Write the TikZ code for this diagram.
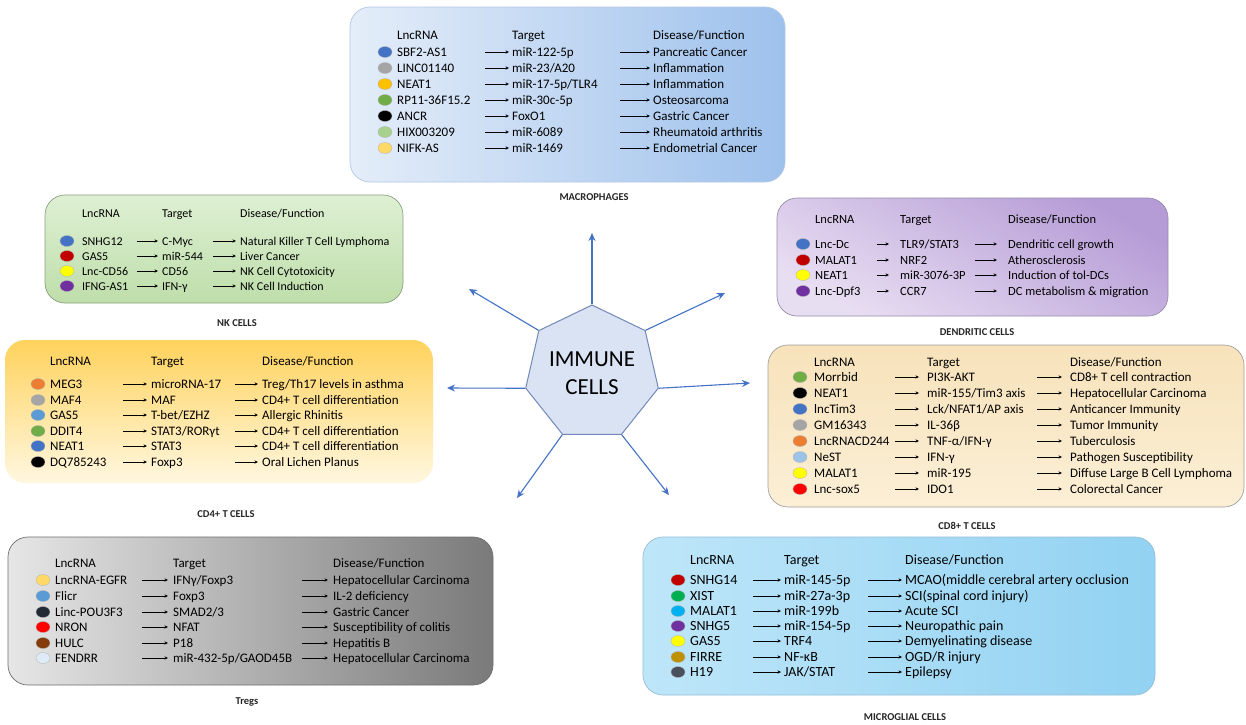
\documentclass[tikz,border=0pt]{standalone}
\usepackage{fontspec}
\setmainfont{Carlito}
\usepackage{tikz}
\usetikzlibrary{shapes.geometric, arrows.meta}

\definecolor{dblue}{HTML}{4472C4}
\definecolor{dgray}{HTML}{A5A5A5}
\definecolor{dgold}{HTML}{FFC000}
\definecolor{dgreen}{HTML}{70AD47}
\definecolor{dlgreen}{HTML}{A9D18E}
\definecolor{dlgold}{HTML}{FFD966}
\definecolor{dred}{HTML}{C00000}
\definecolor{dyellow}{HTML}{FFFF00}
\definecolor{dpurple}{HTML}{7030A0}
\definecolor{dorange}{HTML}{ED7D31}
\definecolor{dsky}{HTML}{5B9BD5}
\definecolor{dpale}{HTML}{9DC3E6}
\definecolor{dbright}{HTML}{FF0000}
\definecolor{dnavy}{HTML}{222A35}
\definecolor{dbrown}{HTML}{843C0C}
\definecolor{dice}{HTML}{DEEBF7}
\definecolor{dgreentwo}{HTML}{00B050}
\definecolor{dcyan}{HTML}{00B0F0}
\definecolor{ddgold}{HTML}{BF9000}
\definecolor{dslate}{HTML}{4A4F5C}
\definecolor{hexfill}{HTML}{DAE3F3}
\definecolor{hexedge}{HTML}{7188B8}

\tikzset{
  cell/.style={anchor=west, inner xsep=0pt, inner ysep=0pt, text height=8.5pt, text depth=0pt},
  lncdot/.style={ellipse, minimum width=14pt, minimum height=11pt, inner sep=0pt, draw=black!30, line width=0.3pt},
  lncarrow/.style={-{Stealth[length=3.5pt,width=3.2pt]}, line width=0.6pt},
  cellbox/.style={rounded corners=20pt, line width=0.7pt},
  boxlabel/.style={font=\fontsize{10.5}{12}\selectfont\bfseries, text=black!85},
  spoke/.style={-{Stealth[length=8pt,width=7pt]}, line width=1.1pt, draw=dblue}
}

% column positions of one box: dot, lncRNA, arrow 1, target, arrow 2, disease
\newcommand{\boxcols}[6]{\def\xdot{#1}\def\xlnc{#2}\def\xaa{#3}\def\xtar{#4}\def\xba{#5}\def\xdis{#6}}
\newcommand{\lnchead}[2]{%
  \node[cell] (#1-h1) at (\xlnc,#2) {LncRNA};
  \node[cell] (#1-h2) at (\xtar,#2) {Target};
  \node[cell] (#1-h3) at (\xdis,#2) {Disease/Function};
}
\newcommand{\lncrow}[6]{%
  \node[lncdot, fill=#3] (#1-dot) at (\xdot,#2) {};
  \node[cell] (#1-lnc) at (\xlnc,#2) {#4};
  \node[cell] (#1-tar) at (\xtar,#2) {#5};
  \node[cell] (#1-dis) at (\xdis,#2) {#6};
  \coordinate (#1-a) at (\xaa,#2);
  \coordinate (#1-b) at (\xba,#2);
  \draw[lncarrow] (#1-a) -- (#1-tar);
  \draw[lncarrow] (#1-b) -- (#1-dis);
}

\begin{document}
\begin{tikzpicture}[x=1pt, y=-1pt]
  \useasboundingbox[fill=white] (0,0) rectangle (1246,724);

  % boxes
  \draw[cellbox, left color={rgb,255:red,228;green,237;blue,249}, right color={rgb,255:red,158;green,193;blue,236}, draw={rgb,255:red,180;green,199;blue,231}] (350,7) rectangle (785,182);
  \draw[cellbox, top color={rgb,255:red,222;green,240;blue,212}, bottom color={rgb,255:red,190;green,222;blue,170}, draw={rgb,255:red,140;green,160;blue,128}] (45,195) rectangle (403,303);
  \draw[cellbox, top color={rgb,255:red,182;green,156;blue,214}, bottom color={rgb,255:red,232;green,222;blue,242}, shading angle=-30, draw={rgb,255:red,150;green,140;blue,170}] (777,198) rectangle (1168,316);
  \draw[cellbox, top color={rgb,255:red,255;green,210;blue,92}, bottom color={rgb,255:red,255;green,247;blue,224}, draw=none] (5,340) rectangle (433,483);
  \draw[cellbox, top color={rgb,255:red,247;green,226;blue,186}, bottom color={rgb,255:red,251;green,239;blue,214}, draw={rgb,255:red,160;green,160;blue,160}] (768,345) rectangle (1244,507);
  \draw[cellbox, left color={rgb,255:red,230;green,230;blue,230}, right color={rgb,255:red,122;green,122;blue,122}, draw={rgb,255:red,110;green,110;blue,110}] (8,537) rectangle (493,685);
  \draw[cellbox, left color={rgb,255:red,190;green,230;blue,249}, right color={rgb,255:red,146;green,210;blue,242}, draw={rgb,255:red,150;green,190;blue,215}] (643,537) rectangle (1155,695);

  % macrophages
  \begin{scope}[cell/.append style={font=\fontsize{13}{15}\selectfont}, lncarrow/.append style={shorten >=3pt}]
    \boxcols{385}{397}{485}{512}{620}{653}
    \lnchead{mac}{35}
    \lncrow{mac1}{52}{dblue}{SBF2-AS1}{miR-122-5p}{Pancreatic Cancer}
    \lncrow{mac2}{68}{dgray}{LINC01140}{miR-23/A20}{Inflammation}
    \lncrow{mac3}{84}{dgold}{NEAT1}{miR-17-5p/TLR4}{Inflammation}
    \lncrow{mac4}{100}{dgreen}{RP11-36F15.2}{miR-30c-5p}{Osteosarcoma}
    \lncrow{mac5}{116}{black}{ANCR}{FoxO1}{Gastric Cancer}
    \lncrow{mac6}{132}{dlgreen}{HIX003209}{miR-6089}{Rheumatoid arthritis}
    \lncrow{mac7}{148}{dlgold}{NIFK-AS}{miR-1469}{Endometrial Cancer}
  \end{scope}

  % NK cells
  \begin{scope}[cell/.append style={font=\fontsize{12}{14}\selectfont}, lncarrow/.append style={shorten >=4pt}]
    \boxcols{67}{82}{137}{162}{213}{240}
    \lnchead{nk}{213}
    \lncrow{nk1}{241}{dblue}{SNHG12}{C-Myc}{Natural Killer T Cell Lymphoma}
    \lncrow{nk2}{256}{dred}{GAS5}{miR-544}{Liver Cancer}
    \lncrow{nk3}{271}{dyellow}{Lnc-CD56}{CD56}{NK Cell Cytotoxicity}
    \lncrow{nk4}{286}{dpurple}{IFNG-AS1}{IFN-γ}{NK Cell Induction}
  \end{scope}

  % dendritic cells
  \begin{scope}[cell/.append style={font=\fontsize{12.5}{14}\selectfont}, lncarrow/.append style={shorten >=11pt}]
    \boxcols{803}{815}{877}{900}{975}{1008}
    \lnchead{dc}{219}
    \lncrow{dc1}{244}{dblue}{Lnc-Dc}{TLR9/STAT3}{Dendritic cell growth}
    \lncrow{dc2}{260}{dred}{MALAT1}{NRF2}{Atherosclerosis}
    \lncrow{dc3}{275}{dyellow}{NEAT1}{miR-3076-3P}{Induction of tol-DCs}
    \lncrow{dc4}{291}{dpurple}{Lnc-Dpf3}{CCR7}{DC metabolism \& migration}
  \end{scope}

  % CD4+ T cells
  \begin{scope}[cell/.append style={font=\fontsize{13}{15}\selectfont}, lncarrow/.append style={shorten >=4pt}]
    \boxcols{38}{50}{123}{151}{235}{262}
    \lnchead{cdf}{361}
    \lncrow{cdf1}{384}{dorange}{MEG3}{microRNA-17}{Treg/Th17 levels in asthma}
    \lncrow{cdf2}{400}{dgray}{MAF4}{MAF}{CD4+ T cell differentiation}
    \lncrow{cdf3}{415}{dsky}{GAS5}{T-bet/EZHZ}{Allergic Rhinitis}
    \lncrow{cdf4}{431}{dgreen}{DDIT4}{STAT3/RORγt}{CD4+ T cell differentiation}
    \lncrow{cdf5}{446}{dblue}{NEAT1}{STAT3}{CD4+ T cell differentiation}
    \lncrow{cdf6}{462}{black}{DQ785243}{Foxp3}{Oral Lichen Planus}
  \end{scope}

  % CD8+ T cells
  \begin{scope}[cell/.append style={font=\fontsize{13}{15}\selectfont}, lncarrow/.append style={shorten >=8pt}]
    \boxcols{800}{814}{895}{927}{1037}{1070}
    \lnchead{cde}{362}
    \lncrow{cde1}{377}{dgreen}{Morrbid}{PI3K-AKT}{CD8+ T cell contraction}
    \lncrow{cde2}{393}{black}{NEAT1}{miR-155/Tim3 axis}{Hepatocellular Carcinoma}
    \lncrow{cde3}{409}{dblue}{lncTim3}{Lck/NFAT1/AP axis}{Anticancer Immunity}
    \lncrow{cde4}{425}{dgray}{GM16343}{IL-36β}{Tumor Immunity}
    \lncrow{cde5}{441}{dorange}{LncRNACD244}{TNF-α/IFN-γ}{Tuberculosis}
    \lncrow{cde6}{457}{dpale}{NeST}{IFN-γ}{Pathogen Susceptibility}
    \lncrow{cde7}{473}{dyellow}{MALAT1}{miR-195}{Diffuse Large B Cell Lymphoma}
    \lncrow{cde8}{489}{dbright}{Lnc-sox5}{IDO1}{Colorectal Cancer}
  \end{scope}

  % Tregs
  \begin{scope}[cell/.append style={font=\fontsize{13}{15}\selectfont}, lncarrow/.append style={shorten >=5pt}]
    \boxcols{43}{55}{142}{173}{302}{333}
    \lnchead{treg}{563}
    \lncrow{treg1}{580}{dlgold}{LncRNA-EGFR}{IFNγ/Foxp3}{Hepatocellular Carcinoma}
    \lncrow{treg2}{596}{dsky}{Flicr}{Foxp3}{IL-2 deficiency}
    \lncrow{treg3}{612}{dnavy}{Linc-POU3F3}{SMAD2/3}{Gastric Cancer}
    \lncrow{treg4}{627}{dbright}{NRON}{NFAT}{Susceptibility of colitis}
    \lncrow{treg5}{643}{dbrown}{HULC}{P18}{Hepatitis B}
    \lncrow{treg6}{658}{dice}{FENDRR}{miR-432-5p/GAOD45B}{Hepatocellular Carcinoma}
  \end{scope}

  % microglial cells
  \begin{scope}[cell/.append style={font=\fontsize{14}{16}\selectfont}, lncarrow/.append style={shorten >=3pt}]
    \boxcols{678}{690}{753}{784}{868}{905}
    \lnchead{mg}{560}
    \lncrow{mg1}{580}{dred}{SNHG14}{miR-145-5p}{MCAO(middle cerebral artery occlusion}
    \lncrow{mg2}{596}{dgreentwo}{XIST}{miR-27a-3p}{SCI(spinal cord injury)}
    \lncrow{mg3}{611}{dcyan}{MALAT1}{miR-199b}{Acute SCI}
    \lncrow{mg4}{626}{dpurple}{SNHG5}{miR-154-5p}{Neuropathic pain}
    \lncrow{mg5}{641}{dyellow}{GAS5}{TRF4}{Demyelinating disease}
    \lncrow{mg6}{657}{ddgold}{FIRRE}{NF-κB}{OGD/R injury}
    \lncrow{mg7}{672}{dslate}{H19}{JAK/STAT}{Epilepsy}
  \end{scope}

  % box titles
  \node[boxlabel] (maclab) at (594,197) {MACROPHAGES};
  \node[boxlabel] (nklab) at (237,323) {NK CELLS};
  \node[boxlabel] (dclab) at (977,332) {DENDRITIC CELLS};
  \node[boxlabel] (cdflab) at (226,514) {CD4+ T CELLS};
  \node[boxlabel] (cdelab) at (967,526) {CD8+ T CELLS};
  \node[boxlabel] (treglab) at (247,702) {Tregs};
  \node[boxlabel] (mglab) at (905,717) {MICROGLIAL CELLS};

  % centre
  \node[regular polygon, regular polygon sides=7, minimum size=136pt, inner sep=0pt,
        fill=hexfill, draw=hexedge, line width=1pt, align=center,
        font=\fontsize{23}{28}\selectfont] (immune) at (592,373) {IMMUNE\\CELLS};
  \coordinate (tip1) at (592,233);
  \coordinate (tip2) at (469,289);
  \coordinate (tip3) at (447,388);
  \coordinate (tip4) at (517,498);
  \coordinate (tip5) at (669,495);
  \coordinate (tip6) at (750,383);
  \coordinate (tip7) at (725,293);
  \draw[spoke] (immune.corner 1) -- (tip1);
  \draw[spoke] (immune.corner 2) -- (tip2);
  \draw[spoke] (immune.corner 3) -- (tip3);
  \draw[spoke] (immune.corner 4) -- (tip4);
  \draw[spoke] (immune.corner 5) -- (tip5);
  \draw[spoke] (immune.corner 6) -- (tip6);
  \draw[spoke] (immune.corner 7) -- (tip7);
\end{tikzpicture}
\end{document}
